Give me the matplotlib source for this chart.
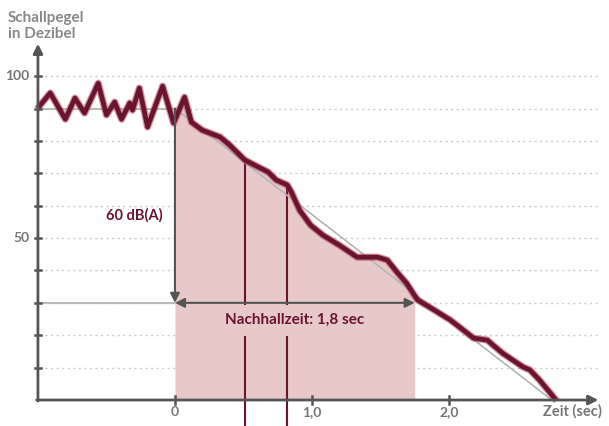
import matplotlib.pyplot as plt
import numpy as np

plt.rcParams['font.family'] = ['Lato', 'DejaVu Sans']

# Schallpegelverlauf (Zeit in s, Pegel in dB)
zeit = [-0.99, -0.91, -0.80, -0.73, -0.66, -0.56, -0.50, -0.44, -0.39, -0.33,
        -0.31, -0.26, -0.20, -0.09, -0.01, 0.07, 0.12, 0.20, 0.33, 0.40,
        0.51, 0.61, 0.68, 0.74, 0.82, 0.85, 0.91, 0.99, 1.08, 1.20,
        1.33, 1.48, 1.55, 1.62, 1.69, 1.77, 1.88, 2.01, 2.18, 2.28,
        2.32, 2.39, 2.54, 2.59, 2.66, 2.77]
pegel = [90.7, 94.8, 86.7, 93.2, 88.6, 97.8, 88.0, 92.0, 86.7, 91.7,
         89.5, 96.3, 84.3, 96.9, 85.5, 93.5, 85.8, 83.3, 81.2, 78.7,
         74.1, 71.9, 70.4, 67.9, 66.4, 64.2, 58.6, 54.0, 50.9, 47.8,
         44.1, 44.1, 43.2, 39.5, 36.1, 30.9, 28.1, 24.7, 19.1, 18.5,
         17.0, 14.5, 10.2, 9.3, 6.2, 0.6]

# idealisierter Abfall
ideal_t = [0.0, 2.75]
ideal_db = [90, 0]

start_pegel = 90
end_pegel = 30
nachhall_ende = 1.75
marker_t = [0.51, 0.82]

y_ticks = [10, 20, 30, 40, 50, 60, 70, 80, 90, 100]
y_labels = {50: '50', 100: '100'}
x_ticks = [0, 1, 2]
x_labels = ['0', '1,0', '2,0']

achse = '#555555'
rot = '#6b1430'
flaeche = '#e7c9ca'

fig = plt.figure(figsize=(6.09, 4.26), dpi=100)
ax = fig.add_axes([0, 0, 1, 1])
ax.set_xlim(-1.277, 3.168)
ax.set_ylim(-8.02, 123.5)
ax.axis('off')

# gepunktete Hilfslinien
for y in y_ticks:
    ax.plot([-0.95, 3.1], [y, y], color='#cccccc', lw=1.0, ls=(0, (1.5, 2.5)), zorder=1)

# Nachhallbereich schattieren
t_fill = np.linspace(0, nachhall_ende, 200)
ax.fill_between(t_fill, 0, np.interp(t_fill, zeit, pegel), color=flaeche, lw=0, zorder=2)

# Bezugslinien bei 90 und 30 dB
ax.plot([-1.0, 0], [start_pegel, start_pegel], color='#bbbbbb', lw=1.5, zorder=3)
ax.plot([-1.0, 0], [end_pegel, end_pegel], color='#bbbbbb', lw=1.5, zorder=3)

# senkrechte Markierungslinien
for t in marker_t:
    top = np.interp(t, zeit, pegel)
    ax.plot([t, t], [end_pegel - 0.3, top], color=rot, lw=1.5, zorder=3)
    ax.plot([t, t], [19.4, -8.5], color=rot, lw=1.5, zorder=3, clip_on=False)

# ideale Gerade
ax.plot(ideal_t, ideal_db, color='#b5b5b5', lw=1.2, zorder=4)

# Messkurve
ax.plot(zeit, pegel, color='#b23a52', lw=5.2, alpha=0.55, zorder=5, solid_joinstyle='round')
ax.plot(zeit, pegel, color=rot, lw=3.4, zorder=6, solid_joinstyle='round')

# Achsen mit Pfeilen
ax.annotate('', xy=(-1.0, 110), xytext=(-1.0, -0.3),
            arrowprops=dict(arrowstyle='-|>', color=achse, lw=2, mutation_scale=14,
                            shrinkA=0, shrinkB=0), zorder=7)
ax.annotate('', xy=(3.09, 0), xytext=(-1.01, 0),
            arrowprops=dict(arrowstyle='-|>', color=achse, lw=2, mutation_scale=14,
                            shrinkA=0, shrinkB=0), zorder=7)

for y in y_ticks:
    ax.plot([-1.025, -0.975], [y, y], color=achse, lw=1.8, zorder=7)
    if y in y_labels:
        ax.text(-1.06, y, y_labels[y], ha='right', va='center', fontsize=10,
                color='#777777', fontweight='bold')
for t, lab in zip(x_ticks, x_labels):
    ax.plot([t, t], [-1.2, 1.2], color=achse, lw=1.8, zorder=7)
    ax.text(t, -3.6, lab, ha='center', va='center', fontsize=10, color='#777777',
            fontweight='bold')
ax.text(2.9, -3.6, 'Zeit (sec)', ha='center', va='center', fontsize=10.5,
        color='#777777', fontweight='bold')

# Pfeil 60 dB
ax.annotate('', xy=(0, end_pegel), xytext=(0, start_pegel),
            arrowprops=dict(arrowstyle='-|>', color=achse, lw=1.5, mutation_scale=14,
                            shrinkA=0, shrinkB=0), zorder=7)
ax.text(-0.09, 57, '60 dB(A)', ha='right', va='center', fontsize=10.5, color=rot,
        fontweight='bold')

# Pfeil Nachhallzeit
ax.annotate('', xy=(nachhall_ende, end_pegel), xytext=(0, end_pegel),
            arrowprops=dict(arrowstyle='<|-|>', color=achse, lw=1.5, mutation_scale=14,
                            shrinkA=0, shrinkB=0), zorder=7)
ax.text(0.875, 24.8, 'Nachhallzeit: 1,8 sec', ha='center', va='center', fontsize=11,
        color=rot, fontweight='bold')

fig.text(8 / 609, 1 - 11 / 426, 'Schallpegel\nin Dezibel', ha='left', va='top',
         fontsize=11, color='#888888', fontweight='bold', linespacing=1.2)

fig.savefig('out.png', dpi=100)
